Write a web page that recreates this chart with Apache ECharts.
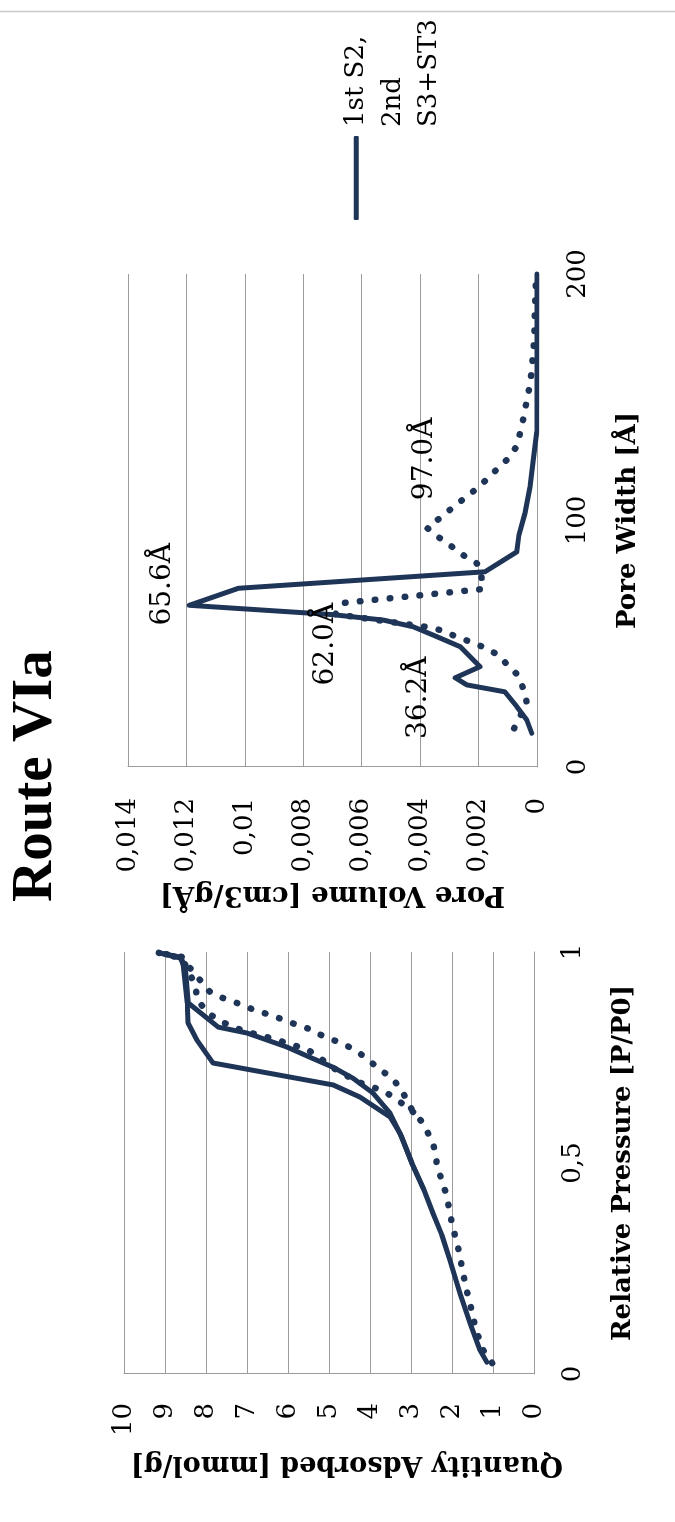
<!DOCTYPE html>
<html>
<head>
<meta charset="utf-8">
<script src="https://cdn.jsdelivr.net/npm/echarts@6/dist/echarts.min.js"></script>
<style>
  html, body { margin: 0; padding: 0; background: #fff; overflow: hidden; width: 675px; height: 1522px; }
  /* the landscape figure is laid out 1522 x 675 and turned a quarter turn counter-clockwise */
  #chart { position: absolute; left: 0; top: 0; width: 1522px; height: 675px;
           transform-origin: 0 0; transform: translate(0, 1522px) rotate(-90deg); }
</style>
</head>
<body>
<div id="chart"></div>
<script>
// ---- text ----
const titleText = 'Route VIa';
const legendLines = ['1st S2,', '2nd', 'S3+ST3'];
const seriesName = legendLines.join(' ');

// ---- tick labels ----
const isoXTicks = ['0', '0,5', '1'];
const isoYTicks = ['0', '1', '2', '3', '4', '5', '6', '7', '8', '9', '10'];
const psdXTicks = ['0', '100', '200'];
const psdYTicks = ['0', '0,002', '0,004', '0,006', '0,008', '0,01', '0,012', '0,014'];

// ---- N2 isotherm: [P/P0, mmol/g] ----
const isoAdsSolid = [
  [0.028, 1.15], [0.057, 1.32], [0.12, 1.56], [0.19, 1.80], [0.27, 2.05], [0.33, 2.25],
  [0.38, 2.46], [0.44, 2.70], [0.50, 2.98], [0.56, 3.22], [0.618, 3.51], [0.666, 3.93],
  [0.70, 4.40], [0.727, 4.90], [0.75, 5.45], [0.775, 6.03], [0.808, 7.00], [0.822, 7.70],
  [0.879, 8.43], [0.957, 8.50], [0.988, 8.63], [0.997, 9.10]
];
const isoDesSolid = [
  [0.997, 9.10], [0.985, 8.60], [0.974, 8.56], [0.879, 8.46], [0.832, 8.44], [0.791, 8.22],
  [0.737, 7.83], [0.685, 4.90], [0.656, 4.24], [0.609, 3.51], [0.571, 3.27], [0.50, 2.98],
  [0.44, 2.70]
];
const isoAdsDotted = [
  [0.026, 1.02], [0.057, 1.24], [0.097, 1.39], [0.135, 1.49], [0.168, 1.56], [0.204, 1.66],
  [0.239, 1.73], [0.275, 1.80], [0.313, 1.88], [0.346, 1.98], [0.382, 2.05], [0.417, 2.12],
  [0.453, 2.22], [0.483, 2.34], [0.547, 2.46], [0.595, 2.71], [0.621, 2.95], [0.649, 3.10],
  [0.68, 3.27], [0.704, 3.51], [0.727, 3.83], [0.751, 4.12], [0.772, 4.44], [0.787, 4.78],
  [0.801, 5.15], [0.817, 5.46], [0.829, 5.83], [0.841, 6.15], [0.853, 6.51], [0.865, 6.88],
  [0.879, 7.24], [0.891, 7.59], [0.905, 7.90], [0.934, 8.15], [0.962, 8.39], [0.988, 8.56],
  [0.998, 9.15]
];
const isoDesDotted = [
  [0.998, 9.15], [0.985, 8.60], [0.96, 8.45], [0.922, 8.27], [0.886, 8.20], [0.858, 7.98],
  [0.839, 7.71], [0.822, 7.34], [0.81, 6.98], [0.801, 6.61], [0.791, 6.24], [0.78, 5.90],
  [0.77, 5.54], [0.749, 5.22], [0.727, 4.93], [0.709, 4.61], [0.692, 4.29], [0.68, 3.93],
  [0.666, 3.59], [0.645, 3.27], [0.621, 2.95]
];

// ---- pore size distribution: [width Å, cm3/gÅ] ----
const psdSolid = [
  [13.7, 0.00018], [19.1, 0.00035], [24.5, 0.00069], [30.5, 0.0011], [33.3, 0.0024],
  [36.2, 0.0028], [40.7, 0.00195], [48.8, 0.00263], [53.5, 0.00355], [56.9, 0.00424],
  [59.6, 0.00526], [61.8, 0.00698], [65.6, 0.0119], [72.5, 0.01022], [79.2, 0.00178],
  [87.3, 0.00069], [94, 0.00062], [103, 0.00041], [113.6, 0.00024], [124.5, 0.00013],
  [136, 0.00001], [200, 0]
];
const psdDotted = [
  [15.7, 0.00078], [26.1, 0.00035], [31.9, 0.00047], [37.7, 0.00069], [41.8, 0.00104],
  [45.4, 0.00132], [48.4, 0.00178], [50.8, 0.00229], [53.1, 0.0028], [55.6, 0.00332],
  [56.9, 0.00383], [62.0, 0.0069], [66.6, 0.0066], [72.2, 0.00185], [77.0, 0.0019],
  [82.6, 0.00206], [86.0, 0.00253], [90.0, 0.00298], [93.4, 0.00339], [97.0, 0.00376],
  [101.0, 0.00332], [104.9, 0.00292], [108.6, 0.00253], [112.4, 0.00212], [116.7, 0.00172],
  [120.7, 0.00138], [125.2, 0.00098], [130.2, 0.00069], [136.4, 0.00056], [142.8, 0.00044],
  [148.9, 0.00035], [155, 0.00024], [161, 0.00018], [167, 0.00014], [173, 0.0001],
  [179, 0.00008], [185, 0.00007], [192, 0.00005], [198, 0.00003]
];
// peaks carrying a width label
const psdSolidPeaks = [65.6, 36.2];
const psdDottedPeaks = [62.0, 97.0];

// ---- styling ----
const ink = '#1f3557';
const gridGrey = '#9c9c9c';
const serif = 'DejaVu Serif';
const peakLabelOffset = { '65.6': [21, -27], '36.2': [-20, -36], '62.0': [-30, -10], '97.0': [69, -2] };

const tickFont = { fontFamily: serif, fontSize: 26, color: '#000' };
const nameFont = { fontFamily: serif, fontSize: 26, fontWeight: 'bold', color: '#000' };
const solidLine = { color: ink, width: 5, cap: 'round', join: 'round' };
const dottedLine = { color: ink, width: 6.5, type: [0.5, 14.5], cap: 'round', join: 'round' };

function tickFormatter(labels, step) {
  return v => labels[Math.round(v / step)] ?? '';
}

function peakMarks(series, peaks) {
  return {
    symbol: 'circle', symbolSize: 1,
    itemStyle: { color: 'rgba(0,0,0,0)' },
    label: { show: true, position: 'inside', fontFamily: serif, fontSize: 28, color: '#000' },
    data: peaks.map(w => {
      const pt = series.find(p => p[0] === w);
      return {
        coord: pt,
        label: { formatter: w.toFixed(1) + 'Å', offset: peakLabelOffset[w.toFixed(1)] }
      };
    })
  };
}

function valueAxis(extra) {
  return Object.assign({
    type: 'value',
    axisTick: { show: false },
    axisLine: { show: true, lineStyle: { color: gridGrey, width: 1 } },
    splitLine: { show: false },
    axisLabel: Object.assign({}, tickFont),
    nameLocation: 'middle',
    nameTextStyle: Object.assign({}, nameFont)
  }, extra);
}

const chart = echarts.init(document.getElementById('chart'), null, { renderer: 'canvas' });

chart.setOption({
  animation: false,
  backgroundColor: '#fff',
  title: {
    text: titleText, left: 620, top: 8, padding: 0,
    textStyle: { fontFamily: 'Liberation Serif', fontWeight: 'bold', fontSize: 57, color: '#000' }
  },
  legend: {
    data: [seriesName], left: 1302, top: 265, padding: 0,
    itemWidth: 84, itemHeight: 5, icon: 'roundRect',
    itemStyle: { color: ink }, selectedMode: false,
    // two blank lines keep the first text line level with the key line
    formatter: () => '\n\n' + legendLines.join('\n'),
    textStyle: { fontFamily: serif, fontSize: 26, lineHeight: 36.5, color: '#000', padding: [0, 0, 0, 4] }
  },
  grid: [
    { left: 148, top: 124, width: 422, height: 410 },
    { left: 755, top: 128, width: 493, height: 409 }
  ],
  xAxis: [
    valueAxis({
      gridIndex: 0, min: 0, max: 1, interval: 0.5,
      axisLabel: Object.assign({}, tickFont, { margin: 26, formatter: tickFormatter(isoXTicks, 0.5) }),
      name: 'Relative Pressure [P/P0]', nameGap: 76
    }),
    valueAxis({
      gridIndex: 1, min: 0, max: 200, interval: 100,
      axisLabel: Object.assign({}, tickFont, { margin: 28, formatter: tickFormatter(psdXTicks, 100) }),
      name: 'Pore Width [Å]', nameGap: 78
    })
  ],
  yAxis: [
    valueAxis({
      gridIndex: 0, min: 0, max: 10, interval: 1,
      splitLine: { show: true, lineStyle: { color: gridGrey, width: 1 } },
      axisLabel: Object.assign({}, tickFont, { margin: 29, formatter: tickFormatter(isoYTicks, 1) }),
      name: 'Quantity Adsorbed [mmol/g]', nameGap: 77, nameRotate: 90,
      nameTextStyle: Object.assign({}, nameFont, { fontSize: 27, padding: [0, 36, 0, 0] })
    }),
    valueAxis({
      gridIndex: 1, min: 0, max: 0.014, interval: 0.002,
      splitLine: { show: true, lineStyle: { color: gridGrey, width: 1 } },
      axisLabel: Object.assign({}, tickFont, { margin: 31, formatter: tickFormatter(psdYTicks, 0.002) }),
      name: 'Pore Volume [cm3/gÅ]', nameGap: 113, nameRotate: 90,
      nameTextStyle: Object.assign({}, nameFont, { fontSize: 27.5 })
    })
  ],
  series: [
    { name: 'Dotted adsorption', type: 'line', xAxisIndex: 0, yAxisIndex: 0, data: isoAdsDotted,
      symbol: 'none', lineStyle: dottedLine, z: 2 },
    { name: 'Dotted desorption', type: 'line', xAxisIndex: 0, yAxisIndex: 0, data: isoDesDotted,
      symbol: 'none', lineStyle: dottedLine, z: 2 },
    { name: seriesName, type: 'line', xAxisIndex: 0, yAxisIndex: 0, data: isoAdsSolid,
      symbol: 'none', lineStyle: solidLine, itemStyle: { color: ink }, z: 3 },
    { name: seriesName, type: 'line', xAxisIndex: 0, yAxisIndex: 0, data: isoDesSolid,
      symbol: 'none', lineStyle: solidLine, itemStyle: { color: ink }, z: 3 },
    { name: 'Dotted PSD', type: 'line', xAxisIndex: 1, yAxisIndex: 1, data: psdDotted,
      symbol: 'none', lineStyle: dottedLine, z: 2,
      markPoint: peakMarks(psdDotted, psdDottedPeaks) },
    { name: seriesName, type: 'line', xAxisIndex: 1, yAxisIndex: 1, data: psdSolid,
      symbol: 'none', lineStyle: solidLine, itemStyle: { color: ink }, z: 3,
      markPoint: peakMarks(psdSolid, psdSolidPeaks) }
  ],
  graphic: [
    { type: 'line', shape: { x1: 1510.5, y1: 0, x2: 1510.5, y2: 675 },
      style: { stroke: '#c8c8c8', lineWidth: 1.5 }, silent: true }
  ]
});
</script>
</body>
</html>
